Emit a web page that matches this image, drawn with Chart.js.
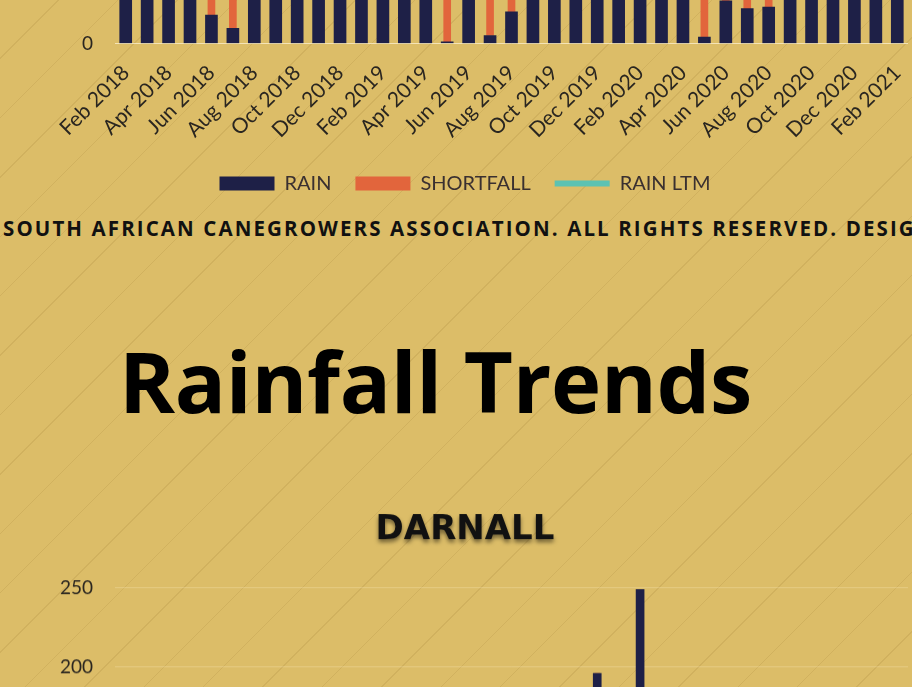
<!DOCTYPE html>
<html>
<head>
<meta charset="utf-8">
<title>Rainfall Trends</title>
<script src="https://cdn.jsdelivr.net/npm/chart.js@4.4.1/dist/chart.umd.min.js"></script>
<style>
html, body { margin: 0; padding: 0; width: 912px; height: 687px; overflow: hidden; }
body {
    position: relative;
    background-color: #dcbd68;
    background-image: repeating-linear-gradient(135deg, rgba(0,0,0,0) 0 41px, rgba(140,105,35,0.14) 41px 42px);
}
.chart-box { position: absolute; left: 0; width: 912px; }
#rainBox { top: -420px; height: 620px; }
#darnallBox { top: 490px; height: 620px; }
.footer {
    position: absolute; left: 3px; top: 218px; margin: 0;
    white-space: nowrap; color: #111;
    font: 700 20.5px/1 'Open Sans', sans-serif; letter-spacing: 2.1px;
}
h1 {
    position: absolute; left: 119px; top: 338px; margin: 0;
    white-space: nowrap; color: #000;
    font: 700 85px/1 'Open Sans', sans-serif; letter-spacing: -0.3px;
}
</style>
</head>
<body>

<div class="chart-box" id="rainBox"><canvas id="rainChart"></canvas></div>
<p class="footer">SOUTH AFRICAN CANEGROWERS ASSOCIATION. ALL RIGHTS RESERVED. DESIGN</p>
<h1>Rainfall Trends</h1>
<div class="chart-box" id="darnallBox"><canvas id="darnallChart"></canvas></div>

<script>
// months shown on both charts
const months = ['Feb 2018', 'Mar 2018', 'Apr 2018', 'May 2018', 'Jun 2018', 'Jul 2018', 'Aug 2018',
    'Sep 2018', 'Oct 2018', 'Nov 2018', 'Dec 2018', 'Jan 2019', 'Feb 2019', 'Mar 2019', 'Apr 2019',
    'May 2019', 'Jun 2019', 'Jul 2019', 'Aug 2019', 'Sep 2019', 'Oct 2019', 'Nov 2019', 'Dec 2019',
    'Jan 2020', 'Feb 2020', 'Mar 2020', 'Apr 2020', 'May 2020', 'Jun 2020', 'Jul 2020', 'Aug 2020',
    'Sep 2020', 'Oct 2020', 'Nov 2020', 'Dec 2020', 'Jan 2021', 'Feb 2021'];
const yTicks = [0, 50, 100, 150, 200, 250];

// upper chart (station name cut off above the page)
const rain = [95, 110, 60, 45, 18, 9.5, 40, 55, 90, 85, 120, 140, 100, 130, 70,
    1, 35, 5, 20, 50, 80, 110, 150, 160, 120, 90, 65, 4, 27, 22, 23, 50, 70, 100, 140, 160, 120];
const shortfall = [0, 0, 0, 0, 24, 31, 0, 0, 0, 0, 0, 0, 0, 0, 0,
    48, 0, 35, 26, 0, 0, 0, 0, 0, 0, 0, 0, 45, 12, 18, 22, 0, 0, 0, 0, 0, 0];
const rainLtm = [130, 115, 75, 50, 42, 40, 45, 60, 85, 100, 115, 135, 130, 115, 75,
    50, 42, 40, 45, 60, 85, 100, 115, 135, 130, 115, 75, 50, 42, 40, 45, 60, 85, 100, 115, 135, 130];

// DARNALL
const darnallRain = [120, 95, 70, 40, 25, 20, 45, 60, 110, 90, 140, 150, 110, 160, 85,
    10, 45, 15, 30, 55, 100, 130, 196, 170, 249, 115, 80, 12, 40, 30, 35, 70, 95, 120, 165, 180, 150];
const darnallShortfall = [0, 0, 0, 10, 15, 18, 0, 0, 0, 5, 0, 0, 10, 0, 0,
    40, 0, 23, 15, 8, 0, 0, 0, 0, 0, 0, 0, 38, 0, 8, 10, 0, 0, 0, 0, 0, 0];
const darnallLtm = [135, 120, 80, 50, 40, 38, 45, 62, 90, 105, 120, 140, 135, 120, 80,
    50, 40, 38, 45, 62, 90, 105, 120, 140, 135, 120, 80, 50, 40, 38, 45, 62, 90, 105, 120, 140, 135];

const NAVY = '#1e2047';
const CORAL = '#e2653c';
const TEAL = '#5cc2b2';

Chart.defaults.font.family = 'Lato';
Chart.defaults.color = '#2e2a26';

// Excel style drop shadow under the title text
const titleShadow = {
    id: 'titleShadow',
    beforeDraw(chart) {
        const tb = chart.titleBlock;
        if (!tb || tb._shadowed) return;
        const draw = tb.draw.bind(tb);
        tb.draw = function() {
            const ctx = chart.ctx;
            ctx.save();
            ctx.shadowColor = 'rgba(0,0,0,0.5)';
            ctx.shadowBlur = 4;
            ctx.shadowOffsetY = 3;
            draw();
            ctx.restore();
        };
        tb._shadowed = true;
    }
};

const buildDatasets = function(rainData, shortData, ltmData, rainWidth, shortWidth) {
    return [
        { type: 'bar', label: 'RAIN', data: rainData, backgroundColor: NAVY, borderWidth: 0,
          barThickness: rainWidth, stack: 'rain', pointStyle: 'rect' },
        { type: 'bar', label: 'SHORTFALL', data: shortData, backgroundColor: CORAL, borderWidth: 0,
          barThickness: shortWidth, stack: 'rain', pointStyle: 'rect' },
        { type: 'line', label: 'RAIN LTM', data: ltmData, borderColor: TEAL, backgroundColor: TEAL,
          borderWidth: 6, borderCapStyle: 'round', pointRadius: 0, pointStyle: 'line', stack: 'ltm' }
    ];
}

const buildOptions = function(title) {
    return {
        responsive: true,
        maintainAspectRatio: false,
        animation: false,
        layout: { padding: { top: 10, right: 4, bottom: 0, left: 22 } },
        plugins: {
            title: {
                display: !!title, text: title, color: '#111',
                font: { family: 'DejaVu Sans', size: 34, weight: 'bold' },
                padding: { top: 10, bottom: 37 }
            },
            legend: {
                position: 'bottom',
                labels: {
                    usePointStyle: true, pointStyleWidth: 55, boxHeight: 14,
                    padding: 24, color: '#3a3030', font: { size: 20 }
                }
            },
            tooltip: { enabled: false }
        },
        scales: {
            x: {
                stacked: true,
                grid: { display: false },
                border: { display: false },
                afterFit: function(scale) {
                    scale.height = 106;
                    scale.paddingLeft = 0;
                    scale.paddingRight = 0;
                },
                ticks: {
                    autoSkip: false, minRotation: 45, maxRotation: 45, padding: 9,
                    color: '#2a2620', font: { size: 21 },
                    callback: function(val, i) { return i % 2 === 0 ? months[i] : ''; }
                }
            },
            y: {
                stacked: true,
                min: 0, max: 250,
                border: { display: false },
                afterFit: function(scale) { scale.width = 93; },
                afterBuildTicks: function(scale) { scale.ticks = yTicks.map(v => ({ value: v })); },
                grid: {
                    drawTicks: false,
                    color: ctx => ctx.tick && ctx.tick.value === 0 ? 'rgba(255,245,215,0.7)' : 'rgba(255,240,200,0.3)'
                },
                ticks: { padding: 22, color: '#2a2620', font: { size: 19 } }
            }
        }
    };
}

// make the plot 395px tall (1.58px per mm) and pin it to the page
const placeChart = function(chart, box, pinY, pinTop) {
    const area = chart.chartArea;
    box.style.height = (box.offsetHeight + 395 - (area.bottom - area.top)) + 'px';
    chart.resize();
    const a = chart.chartArea;
    box.style.top = (pinTop ? pinY - a.top : pinY - a.bottom) + 'px';
}

const rainChart = new Chart(document.getElementById('rainChart'), {
    data: { labels: months, datasets: buildDatasets(rain, shortfall, rainLtm, 12, 7) },
    options: buildOptions('')
});

const darnallChart = new Chart(document.getElementById('darnallChart'), {
    data: { labels: months, datasets: buildDatasets(darnallRain, darnallShortfall, darnallLtm, 8, 5) },
    options: buildOptions('DARNALL'),
    plugins: [titleShadow]
});

placeChart(rainChart, document.getElementById('rainBox'), 43, false);
placeChart(darnallChart, document.getElementById('darnallBox'), 588, true);
</script>
</body>
</html>
